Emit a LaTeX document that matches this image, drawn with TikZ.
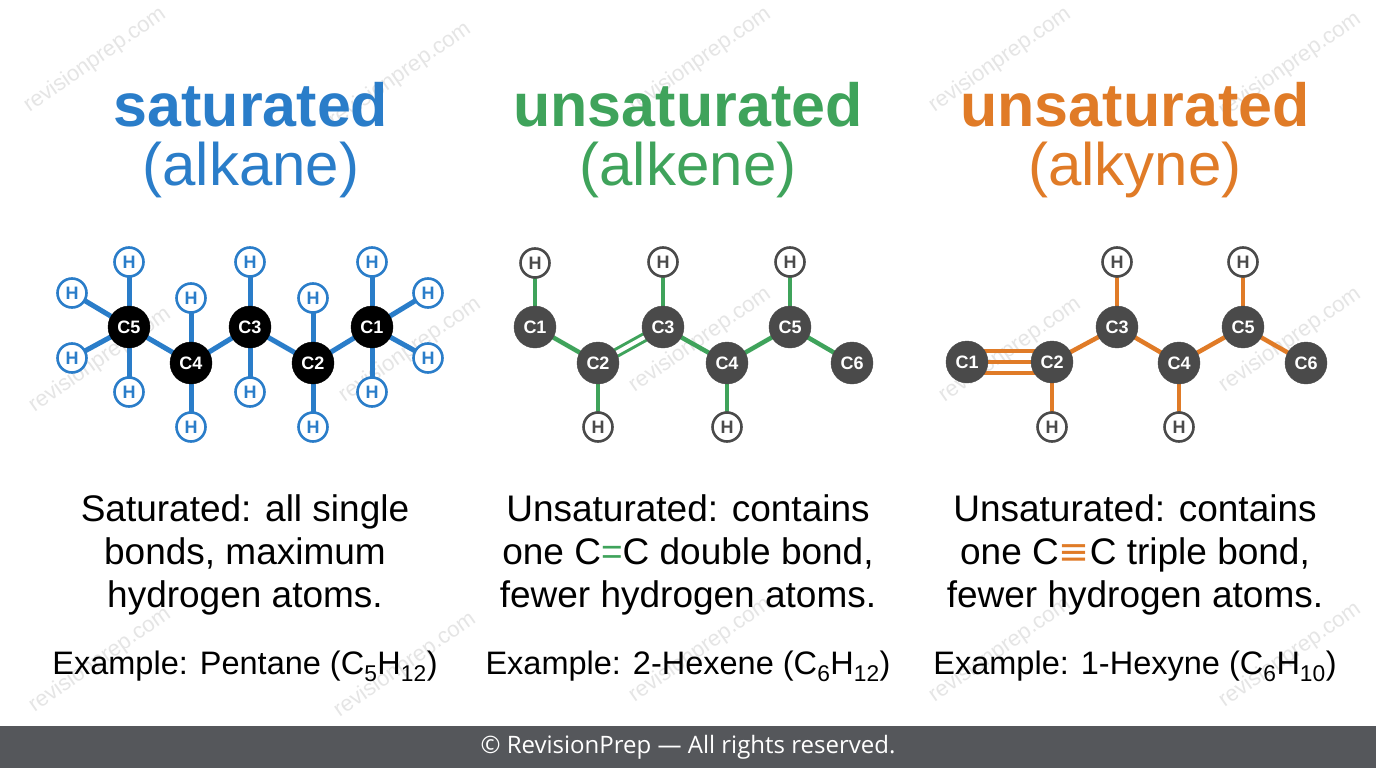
\documentclass[tikz,border=0pt]{standalone}
\usepackage{fontspec}
\setmainfont{Liberation Sans}
\newfontfamily\footfont{Open Sans}
\newfontfamily\symfont{DejaVu Sans}
\usetikzlibrary{backgrounds}
\pgfdeclarelayer{bottom}
\pgfsetlayers{bottom,background,main}
\definecolor{cblue}{HTML}{2A7DC9}
\definecolor{cgreen}{HTML}{3FA35B}
\definecolor{corange}{HTML}{E07B27}
\definecolor{cdark}{HTML}{4A4A4A}
\definecolor{cfoot}{HTML}{55575B}
\tikzset{
 cb/.style={circle,fill=black,draw=black,minimum size=42pt,inner sep=0pt,text=white,font=\bfseries\fontsize{18}{18}\selectfont},
 cg/.style={cb,fill=cdark,draw=cdark},
 hb/.style={circle,fill=white,draw=cblue,line width=2.6pt,minimum size=29pt,inner sep=0pt,text=cblue,font=\bfseries\fontsize{18}{18}\selectfont},
 hg/.style={hb,draw=cdark,text=cdark},
 bb/.style={cblue,line width=5pt},
 bg/.style={cgreen,line width=4.5pt},
 bo/.style={corange,line width=4.5pt},
 title/.style={font=\bfseries\fontsize{61}{61}\selectfont},
 sub/.style={font=\fontsize{60}{60}\selectfont},
 desc/.style={align=center,font=\fontsize{37}{43}\selectfont},
 ex/.style={font=\fontsize{32.5}{32}\selectfont},
 wm/.style={rotate=35,text=gray!20,font=\fontsize{22}{22}\selectfont}
}
\begin{document}
\begin{tikzpicture}[x=1pt,y=-1pt]
\useasboundingbox (0,0) rectangle (1376,768);
\begin{pgfonlayer}{bottom}
\fill[white] (0,0) rectangle (1376,768);
\foreach \x/\y in {95/60,400/75,700/60,1000/60,1290/65,100/360,410/350,700/340,1010/350,1290/340,100/660,405/665,700/650,1000/650,1290/655}
  \node[wm] (w\x\y) at (\x,\y) {revisionprep.com};
\end{pgfonlayer}
% titles
\node[title,text=cblue] (t1) at (251,105) {saturated};
\node[sub,text=cblue] (s1) at (251,170) {(alkane)};
\node[title,text=cgreen] (t2) at (688,105) {unsaturated};
\node[sub,text=cgreen] (s2) at (688,170) {(alkene)};
\node[title,text=corange] (t3) at (1135,105) {unsaturated};
\node[sub,text=corange] (s3) at (1135,170) {(alkyne)};
% alkane
\node[cb] (a5) at (129,327) {C5};
\node[cb] (a4) at (191,363) {C4};
\node[cb] (a3) at (250,327) {C3};
\node[cb] (a2) at (313,363) {C2};
\node[cb] (a1) at (372,327) {C1};
\node[hb] (h5u) at (129,262) {H};
\node[hb] (h5a) at (72,293) {H};
\node[hb] (h5b) at (72,358) {H};
\node[hb] (h5d) at (129,392) {H};
\node[hb] (h4u) at (191,298) {H};
\node[hb] (h4d) at (191,427) {H};
\node[hb] (h3u) at (250,262) {H};
\node[hb] (h3d) at (250,392) {H};
\node[hb] (h2u) at (313,298) {H};
\node[hb] (h2d) at (313,427) {H};
\node[hb] (h1u) at (372,262) {H};
\node[hb] (h1a) at (428,293) {H};
\node[hb] (h1b) at (428,358) {H};
\node[hb] (h1d) at (372,392) {H};
\begin{scope}[on background layer]
\draw[bb] (a5.center)--(a4.center)--(a3.center)--(a2.center)--(a1.center);
\foreach \c/\h in {a5/h5u,a5/h5a,a5/h5b,a5/h5d,a4/h4u,a4/h4d,a3/h3u,a3/h3d,a2/h2u,a2/h2d,a1/h1u,a1/h1a,a1/h1b,a1/h1d}
  \draw[bb] (\c.center)--(\h.center);
\end{scope}
% alkene
\node[cg] (e1) at (535,327) {C1};
\node[cg] (e2) at (598,363) {C2};
\node[cg] (e3) at (663,327) {C3};
\node[cg] (e4) at (727,363) {C4};
\node[cg] (e5) at (790,327) {C5};
\node[cg] (e6) at (852,363) {C6};
\node[hg] (g1) at (535,263) {H};
\node[hg] (g3) at (663,262) {H};
\node[hg] (g5) at (790,262) {H};
\node[hg] (g2) at (598,427) {H};
\node[hg] (g4) at (727,427) {H};
\begin{scope}[on background layer]
\draw[bg] (e1.center)--(e2.center);
\draw[bg] (e3.center)--(e4.center)--(e5.center)--(e6.center);
\draw[cgreen,line width=3pt,double=white,double distance=4pt] (e2.center)--(e3.center);
\foreach \c/\h in {e1/g1,e3/g3,e5/g5,e2/g2,e4/g4}
  \draw[bg] (\c.center)--(\h.center);
\end{scope}
% alkyne
\node[cg] (y1) at (967,362) {C1};
\node[cg] (y2) at (1052,362) {C2};
\node[cg] (y3) at (1117,327) {C3};
\node[cg] (y4) at (1179,363) {C4};
\node[cg] (y5) at (1243,327) {C5};
\node[cg] (y6) at (1306,363) {C6};
\node[hg] (k3) at (1117,262) {H};
\node[hg] (k5) at (1243,262) {H};
\node[hg] (k2) at (1052,427) {H};
\node[hg] (k4) at (1179,427) {H};
\begin{scope}[on background layer]
\foreach \d in {-11,0,11}
  \draw[corange,line width=3.2pt] ([yshift=\d pt]y1.center)--([yshift=\d pt]y2.center);
\draw[bo] (y2.center)--(y3.center)--(y4.center)--(y5.center)--(y6.center);
\foreach \c/\h in {y3/k3,y5/k5,y2/k2,y4/k4}
  \draw[bo] (\c.center)--(\h.center);
\end{scope}
% descriptions
\node[desc] (d1) at (245,555) {Saturated: all single\\bonds, maximum\\hydrogen atoms.};
\node[desc] (d2) at (688,555) {Unsaturated: contains\\one C{\color{cgreen}=}C double bond,\\fewer hydrogen atoms.};
\node[desc] (d3) at (1135,555) {Unsaturated: contains\\one C{\color{corange}\symfont ≡}C triple bond,\\fewer hydrogen atoms.};
\node[ex] (x1) at (245,666) {Example: Pentane (C\textsubscript{5}H\textsubscript{12})};
\node[ex] (x2) at (688,666) {Example: 2-Hexene (C\textsubscript{6}H\textsubscript{12})};
\node[ex] (x3) at (1135,666) {Example: 1-Hexyne (C\textsubscript{6}H\textsubscript{10})};
% footer
\fill[cfoot] (0,726) rectangle (1376,768);
\node[text=white,font=\footfont\fontsize{24}{24}\selectfont] (ft) at (688,747) {© RevisionPrep — All rights reserved.};
\end{tikzpicture}
\end{document}
